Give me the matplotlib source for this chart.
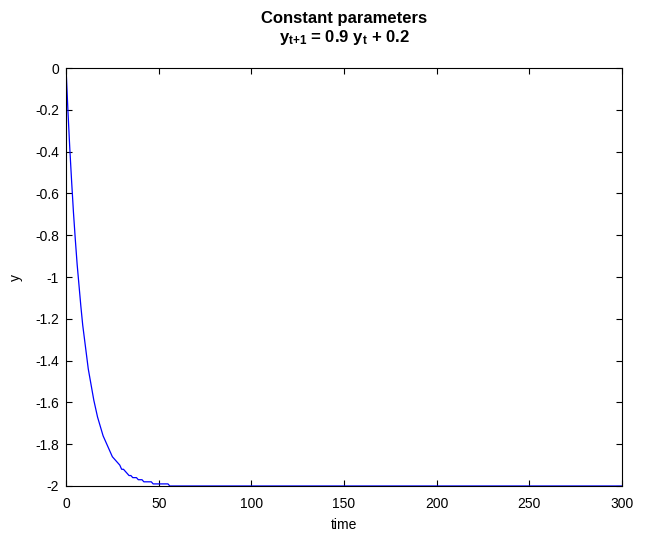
#!/usr/bin/env python3

import matplotlib
matplotlib.use("Agg")
import matplotlib.pyplot as plt

# Data: fast decay over the first ~60 steps, then flat at -2
head_vals = [0.00, -0.20, -0.38, -0.54, -0.69, -0.82, -0.94, -1.04, -1.14, -1.23,
             -1.30, -1.37, -1.44, -1.49, -1.54, -1.59, -1.63, -1.67, -1.70, -1.73,
             -1.76, -1.78, -1.80, -1.82, -1.84, -1.86, -1.87, -1.88, -1.89, -1.90,
             -1.92, -1.92, -1.93, -1.94, -1.95, -1.95, -1.96, -1.96, -1.96, -1.97,
             -1.97, -1.97, -1.98, -1.98, -1.98, -1.98, -1.98, -1.99, -1.99, -1.99,
             -1.99, -1.99, -1.99, -1.99, -1.99, -1.99, -2.00, -2.00, -2.00, -2.00,
             -2.00]
tail_vals = [-2.00] * 240
y = head_vals + tail_vals
time = list(range(len(y)))

xticks = [0, 50, 100, 150, 200, 250, 300]
yticks = [0, -0.2, -0.4, -0.6, -0.8, -1, -1.2, -1.4, -1.6, -1.8, -2]
ytick_labels = ["0", "-0.2", "-0.4", "-0.6", "-0.8", "-1", "-1.2", "-1.4", "-1.6", "-1.8", "-2"]

plt.rcParams["font.family"] = ["Liberation Sans", "DejaVu Sans"]
plt.rcParams["mathtext.fontset"] = "custom"
plt.rcParams["mathtext.rm"] = "Liberation Sans"
plt.rcParams["mathtext.it"] = "Liberation Sans"
plt.rcParams["mathtext.bf"] = "Liberation Sans:bold"

fig = plt.figure(figsize=(6.59, 5.36), dpi=100)
ax = fig.add_axes([0.1002, 0.0933, 0.8437, 0.7798])

ax.plot(time, y, color="#0000ff", linewidth=0.9)

ax.set_xlim(0, 300)
ax.set_ylim(-2, 0)
ax.set_xticks(xticks)
ax.set_yticks(yticks)
ax.set_yticklabels(ytick_labels)
ax.tick_params(direction="in", top=True, right=True, length=4.5, width=0.8,
               labelsize=10)
ax.tick_params(axis="x", pad=8)
ax.tick_params(axis="y", pad=5)
for s in ax.spines.values():
    s.set_linewidth(0.8)

ax.set_xlabel("time", fontsize=10, labelpad=5)
ax.set_ylabel("y", fontsize=10, labelpad=9)

# two-line title placed by baseline
cx = 0.522
fig.text(cx, 1 - 23 / 536, "Constant parameters", ha="center", va="baseline",
         fontsize=12, fontweight="bold")
fig.text(cx, 1 - 42 / 536, "$\\mathbf{y_{t{+}1}}$ = 0.9 $\\mathbf{y_t}$ + 0.2",
         ha="center", va="baseline", fontsize=12, fontweight="bold")

fig.savefig("out.png", dpi=100)
